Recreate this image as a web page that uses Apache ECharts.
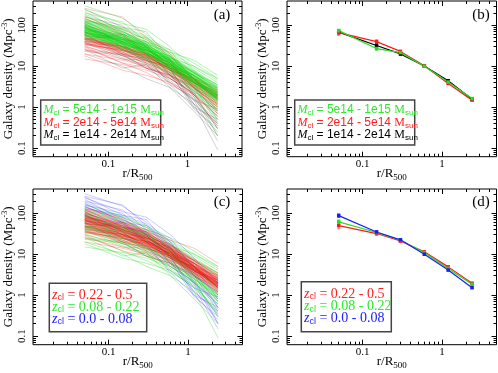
<!DOCTYPE html>
<html><head><meta charset="utf-8">
<script src="https://cdn.jsdelivr.net/npm/echarts@6/dist/echarts.min.js"></script>
<style>html,body{margin:0;padding:0;background:#fff}#c{width:498px;height:373px}</style>
</head><body><div id="c"></div>
<script>
// ---------- DATA ----------
const rBins = [0.05, 0.15, 0.3, 0.6, 1.2, 2.4];

// individual cluster profiles (galaxy density at each rBin)
const profiles = [
 [300,150,60,20,3,0.4],[250,90,70,15,2,0.3],[200,120,40,25,4,0.5],[180,60,50,12,2.5,0.2],
 [160,100,30,8,1.5,0.15],[140,80,45,18,5,0.8],[220,70,35,9,1,0.25],[120,50,30,6,1.2,0.35],
 [100,55,20,5,2,0.6],[130,90,55,14,3.5,1.0],[90,40,25,12,1.8,0.2],[110,35,15,4,1.5,0.9],
 [150,60,22,10,3,1.2],[85,45,35,8,4,1.5],[95,30,12,7,0.9,0.3],[70,25,18,3.5,1.0,0.5],
 [60,20,9,6,3,1.1],[75,38,28,11,6,2.2],[240,110,80,30,8,2],[170,65,25,6,2,0.7],
 [260,160,50,20,5,1.5],[45,60,20,9,1.2,0.4],
 [80,40,25,12,5,2],[70,35,22,11,4.5,1.8],[60,30,20,10,4,1.6],[55,32,18,9,4.2,2.1],[90,45,28,13,5.5,2.2],
 [65,28,19,10,4.8,1.9],[50,25,16,9,4.0,1.7],[45,22,15,8,3.5,1.5],[40,28,20,11,5,2.5],[35,20,14,9,4.5,2.3],
 [100,50,30,14,6,2.5],[110,40,25,12,5,2],[75,42,30,15,6.5,2.8],[58,36,24,12,5.5,2.4],
 [48,30,21,10,4.2,1.9],[30,18,12,7,3.5,1.8],[25,15,11,6.5,3.2,1.7],[20,14,10,6,3,1.4],
 [85,38,23,9,3.5,1.2],[95,55,35,16,7,3],[120,60,35,15,6,2.3],[68,33,26,13,5.8,2.6],
 [52,27,17,11,5.2,2.6],[42,30,18,8.5,3.8,1.6],[38,22,13,7.5,3.4,1.3],
 [62,24,16,8,3.6,1.4],[78,30,20,9.5,4.4,1.7],[140,70,40,17,7,2.8],
 [33,26,16,9.5,4.6,2.2],[28,12,9,5.5,2.8,1.2],
 [72,34,21,10.5,4.6,1.9],[88,42,27,12,5.2,2.0],[64,37,23,11.5,5,2.3],
 [46,28,19,10,4.4,2.0],[56,26,17,9,4,1.7],
 [105,48,31,14,6.2,2.6],[82,52,33,17,7.5,3.4],[66,40,27,14,6.8,3.1],
 [36,24,15,8,3.9,1.9],[92,36,22,10,4.2,1.6],
 [90,48,26,11,4.2,1.5],[70,30,15,7,2.5,0.8],[55,20,12,5,2.2,0.6],[45,35,24,13,6,2.8],
 [120,70,38,18,8,3.5],[65,45,30,15,7,3],[38,16,9,4,1.5,0.4],[30,12,7,3.5,1.8,0.35],
 [80,25,14,6.5,2.4,0.9],[100,60,40,20,9,4],[50,30,18,8,3,1.0],[20,10,5,3,1.2,0.09],
 [60,40,28,16,10,5],[18,8,6,4,2,0.6],[75,50,32,17,7.5,3.2],[44,26,14,6,2,0.5],
 [130,80,45,22,10,4.5],[110,45,22,10,3.8,1.3],[35,24,17,9,4,1.8],[85,36,20,8.5,3.2,1.1],
 [58,22,11,4.5,1.6,0.45],[25,20,14,8,5,3],[160,85,50,25,12,5],[48,38,25,14,7,3.5],
 [40,18,10,5,2.2,0.8],[26,9,11,3,0.8,0.2],[15,11,8,5,2.5,1.0],[115,65,30,13,5,1.8],
 [70,45,35,22,14,6],
 [55,48,20,14,5,1.5],[130,45,40,12,6,1.9],[40,35,13,11,3,1.0],[85,30,28,9,5,1.3],
 [65,50,18,13,4,2.4],[110,60,25,18,4.5,1.7],[50,18,16,6,3.2,0.7],[75,55,22,10,6,1.5],
 [35,32,20,7,4,1.1],[95,42,33,10,5.5,1.4],[60,27,24,9,2.8,1.6],[150,55,32,15,4,2.0],
 [190,80,30,14,3,0.5],[23,19,9,6,2.6,0.9],[48,24,21,12,3.4,0.8],[70,40,20,16,7,2.0],
 [125,75,28,11,4.8,1.6],[42,20,19,8,4.8,2.0],[88,33,16,11,3.8,2.3],[57,44,29,9,4.3,1.8],
 [32,15,14,9,2.2,0.3],[68,30,25,14,5,1.2],[100,38,20,12,3,0.7],[78,60,36,13,6,2.5]
];
// mass class of each profile: G = 5e14-1e15, R = 2e14-5e14, K = 1e14-2e14
const massClass = ('GKGGKRKKRGKKRGKKRGGRRK' + 'GGGGGRRRRRGGGGRRRRGGGGRRRGGGRRGGGRRGGGRG' +
  'GGKGGGKRGGRKGRGKGGRGKRGGKKRG' + 'G' + 'GGRGRGKGRGGGGKRGGRGGKRKG').split('');
// redshift class: R = 0.22-0.5, G = 0.08-0.22, B = 0.0-0.08
const zClass = ('BBBBBBBBBBBBBBBBBBBBBB' + 'RRRRRRRRRRRRRRRRRRRRRRRRRRRRRRRRRRRRRRRR' +
  'GGGGGGGGGGGGGGGGGGGGGGGGGGGG' + 'R' + 'RRGGRRGRRGRBBGGRRRRGGRGR').split('');

// stacked (mean) profiles, panel (b)
const meanMassHigh = [74, 27, 21.5, 10, 4.1, 1.62];
const meanMassMid  = [66, 40, 23, 10.3, 3.8, 1.48];
const meanMassLow  = [68, 32, 20, 10.1, 4.4, 1.56];
const errMassHigh  = [6, 2.5, 1.2, 0.5, 0.2, 0.08];
const errMassMid   = [9, 4, 1.5, 0.6, 0.25, 0.08];
const errMassLow   = [7, 3.5, 1.5, 0.6, 0.25, 0.08];
// panel (d)
const meanZHigh = [50, 32, 21, 11.5, 4.9, 1.95];
const meanZMid  = [62, 34, 22, 11, 4.5, 1.85];
const meanZLow  = [88, 35, 22.5, 10, 4.1, 1.52];
const errZHigh  = [8, 3, 1.5, 0.6, 0.25, 0.1];
const errZMid   = [7, 2.5, 1.2, 0.5, 0.2, 0.08];
const errZLow   = [9, 3, 1.5, 0.5, 0.2, 0.08];

// axes
const X_MIN = 0.01114, X_MAX = 4.88, Y_MIN = 0.0613, Y_MAX = 393;
const xMajor = [0.1, 1], xMajorLabels = ['0.1', '1'];
const xMinor = [0.02,0.03,0.04,0.05,0.06,0.07,0.08,0.09,0.2,0.3,0.4,0.5,0.6,0.7,0.8,0.9,2,3,4];
const yMajor = [0.1, 1, 10, 100], yMajorLabels = ['0.1', '1', '10', '100'];
const yMinor = [0.07,0.08,0.09,0.2,0.3,0.4,0.5,0.6,0.7,0.8,0.9,2,3,4,5,6,7,8,9,20,30,40,50,60,70,80,90,200,300];

// ---------- CHART ----------
const serif = 'Liberation Serif', sans = 'Liberation Sans';
const L = Math.log10;
const gridPos = [
  {left: 32.5, top: 1, width: 209.5, height: 155.7},
  {left: 287, top: 1, width: 209.5, height: 155.7},
  {left: 33, top: 189, width: 209.5, height: 155.7},
  {left: 287, top: 189, width: 209.5, height: 155.7}
];
const grids = gridPos.map(g => Object.assign({show: true, borderColor: '#000', borderWidth: 1, backgroundColor: 'transparent'}, g));
const xAxes = [], yAxes = [], series = [], dataX = [], dataY = [];

function nearestIdx(vals, v) {
  let best = 0, bd = 1e9;
  vals.forEach((m, i) => { const d = Math.abs(L(m) - v); if (d < bd) { bd = d; best = i; } });
  return best;
}
function tickAxis(gi, pos, vals, len, labels, isX) {
  return {
    type: 'value', gridIndex: gi, position: pos,
    min: L(isX ? X_MIN : Y_MIN), max: L(isX ? X_MAX : Y_MAX),
    axisLine: {show: false, onZero: false}, splitLine: {show: false},
    axisTick: {show: true, inside: true, length: len, customValues: vals.map(L), lineStyle: {color: '#000', width: 1}},
    axisLabel: labels ? {
      show: true, customValues: vals.map(L), formatter: v => labels[nearestIdx(vals, v)],
      fontFamily: serif, fontSize: 11, color: '#000',
      margin: isX ? 2 : 5, rotate: isX ? 0 : 90
    } : {show: false}
  };
}

gridPos.forEach((g, gi) => {
  dataX.push(xAxes.length);
  xAxes.push({
    type: 'log', logBase: 10, gridIndex: gi, min: X_MIN, max: X_MAX, position: 'bottom',
    axisLine: {show: false, onZero: false}, axisTick: {show: false}, axisLabel: {show: false}, splitLine: {show: false},
    name: '{t|r/R}{s|500}', nameLocation: 'middle', nameGap: 9,
    nameTextStyle: {rich: {
      t: {fontFamily: serif, fontSize: 13, color: '#000', lineHeight: 16},
      s: {fontFamily: serif, fontSize: 9, color: '#000', lineHeight: 9, verticalAlign: 'bottom'}
    }}
  });
  xAxes.push(tickAxis(gi, 'bottom', xMajor, 5, xMajorLabels, true));
  xAxes.push(tickAxis(gi, 'bottom', xMinor, 3, null, true));
  xAxes.push(tickAxis(gi, 'top', xMajor, 5, null, true));
  xAxes.push(tickAxis(gi, 'top', xMinor, 3, null, true));

  dataY.push(yAxes.length);
  yAxes.push({
    type: 'log', logBase: 10, gridIndex: gi, min: Y_MIN, max: Y_MAX, position: 'left',
    axisLine: {show: false, onZero: false}, axisTick: {show: false}, axisLabel: {show: false}, splitLine: {show: false},
    name: '{t|Galaxy density (Mpc}{s|-3}{t|)}', nameLocation: 'middle', nameGap: 16,
    nameTextStyle: {rich: {
      t: {fontFamily: serif, fontSize: 13, color: '#000', lineHeight: 16},
      s: {fontFamily: serif, fontSize: 8, color: '#000', lineHeight: 9, verticalAlign: 'top'}
    }}
  });
  yAxes.push(tickAxis(gi, 'left', yMajor, 5, yMajorLabels, false));
  yAxes.push(tickAxis(gi, 'left', yMinor, 3, null, false));
  yAxes.push(tickAxis(gi, 'right', yMajor, 5, null, false));
  yAxes.push(tickAxis(gi, 'right', yMinor, 3, null, false));
});

const thin = {G: 'rgba(0,215,0,0.5)', R: 'rgba(255,0,0,0.4)', K: 'rgba(0,0,0,0.3)', B: 'rgba(0,0,255,0.35)'};
function addProfiles(gi, classes, order, colorMap) {
  order.forEach(c => {
    profiles.forEach((p, i) => {
      if (classes[i] !== c) return;
      series.push({
        type: 'line', xAxisIndex: dataX[gi], yAxisIndex: dataY[gi],
        data: rBins.map((r, k) => [r, p[k]]),
        symbol: 'none', silent: true, animation: false,
        lineStyle: {color: colorMap[c], width: 0.6}
      });
    });
  });
}
addProfiles(0, massClass, ['K', 'R', 'G'], thin);
addProfiles(2, zClass, ['B', 'G', 'R'], thin);

function addMean(gi, vals, errs, color) {
  series.push({
    type: 'custom', xAxisIndex: dataX[gi], yAxisIndex: dataY[gi], silent: true, animation: false,
    data: rBins.map((r, k) => [r, vals[k] - errs[k], vals[k] + errs[k]]),
    encode: {x: 0, y: [1, 2]},
    renderItem: (params, api) => {
      const lo = api.coord([api.value(0), api.value(1)]);
      const hi = api.coord([api.value(0), api.value(2)]);
      const st = {stroke: color, lineWidth: 1, opacity: 0.6};
      return {type: 'group', children: [
        {type: 'line', shape: {x1: lo[0], y1: lo[1], x2: hi[0], y2: hi[1]}, style: st},
        {type: 'line', shape: {x1: lo[0] - 1.5, y1: lo[1], x2: lo[0] + 1.5, y2: lo[1]}, style: st},
        {type: 'line', shape: {x1: hi[0] - 1.5, y1: hi[1], x2: hi[0] + 1.5, y2: hi[1]}, style: st}
      ]};
    }
  });
  series.push({
    type: 'line', xAxisIndex: dataX[gi], yAxisIndex: dataY[gi], silent: true, animation: false,
    data: rBins.map((r, k) => [r, vals[k]]),
    symbol: 'rect', symbolSize: 3.5, itemStyle: {color: color},
    lineStyle: {color: color, width: 1.2}
  });
}
const GREEN = '#22dd22', RED = '#ff1a1a', BLACK = '#000000', BLUE = '#1a1aff';
addMean(1, meanMassLow, errMassLow, BLACK);
addMean(1, meanMassMid, errMassMid, RED);
addMean(1, meanMassHigh, errMassHigh, GREEN);
addMean(3, meanZHigh, errZHigh, RED);
addMean(3, meanZMid, errZMid, GREEN);
addMean(3, meanZLow, errZLow, BLUE);

// ---------- legends / panel labels (graphic) ----------
const massLines = [
  {text: '{mi|M}{sb|cl}{n| = 5e14 - 1e15 }{m|M}{sb|sun}', color: '#2ee82e'},
  {text: '{mi|M}{sb|cl}{n| = 2e14 - 5e14 }{m|M}{sb|sun}', color: '#ff2020'},
  {text: '{mi|M}{sb|cl}{n| = 1e14 - 2e14 }{m|M}{sb|sun}', color: '#000000'}
];
const zLines = [
  {text: '{zi|z}{sb|cl}{n| = 0.22 - 0.5}', color: '#ff2020'},
  {text: '{zi|z}{sb|cl}{n| = 0.08 - 0.22}', color: '#2ee82e'},
  {text: '{zi|z}{sb|cl}{n| = 0.0 - 0.08}', color: '#2020ff'}
];
function massRich(c) {
  return {
    mi: {fill: c, fontFamily: serif, fontStyle: 'italic', fontSize: 12, lineHeight: 14},
    sb: {fill: c, fontFamily: sans, fontSize: 8, lineHeight: 9, verticalAlign: 'bottom'},
    n: {fill: c, fontFamily: sans, fontSize: 12, lineHeight: 14},
    m: {fill: c, fontFamily: serif, fontSize: 12, lineHeight: 14}
  };
}
function zRich(c) {
  return {
    zi: {fill: c, fontFamily: serif, fontStyle: 'italic', fontSize: 14, lineHeight: 15},
    sb: {fill: c, fontFamily: sans, fontSize: 9, lineHeight: 9, verticalAlign: 'bottom'},
    n: {fill: c, fontFamily: serif, fontSize: 14, lineHeight: 15}
  };
}
function legendBox(x, y, w, h, tx, ys, lines, richFn) {
  const els = [{type: 'rect', shape: {x: x, y: y, width: w, height: h}, style: {fill: '#fff', stroke: '#444', lineWidth: 1.5}, z: 100}];
  lines.forEach((ln, i) => {
    els.push({type: 'text', x: tx, y: ys[i], z: 101, style: {text: ln.text, rich: richFn(ln.color), fill: ln.color, verticalAlign: 'middle', align: 'left'}});
  });
  return els;
}
const graphics = [].concat(
  legendBox(40.7, 100, 120, 45, 43.5, [110, 122.5, 135], massLines, massRich),
  legendBox(294.7, 100, 120, 45, 297.5, [110, 122.5, 135], massLines, massRich),
  legendBox(49.3, 283.3, 97.4, 48.4, 52, [295, 307, 319], zLines, zRich),
  legendBox(301.3, 281.7, 90, 50, 304, [294, 306.5, 318.5], zLines, zRich),
  [['(a)', 222, 15.5], ['(b)', 481, 15.5], ['(c)', 222, 202], ['(d)', 481, 202]].map(p => ({
    type: 'text', x: p[1], y: p[2], z: 101,
    style: {text: p[0], fill: '#000', fontFamily: serif, fontSize: 15, align: 'center', verticalAlign: 'middle'}
  }))
);

const chart = echarts.init(document.getElementById('c'));
chart.setOption({
  animation: false,
  grid: grids,
  xAxis: xAxes,
  yAxis: yAxes,
  series: series,
  graphic: graphics
});
</script></body></html>
